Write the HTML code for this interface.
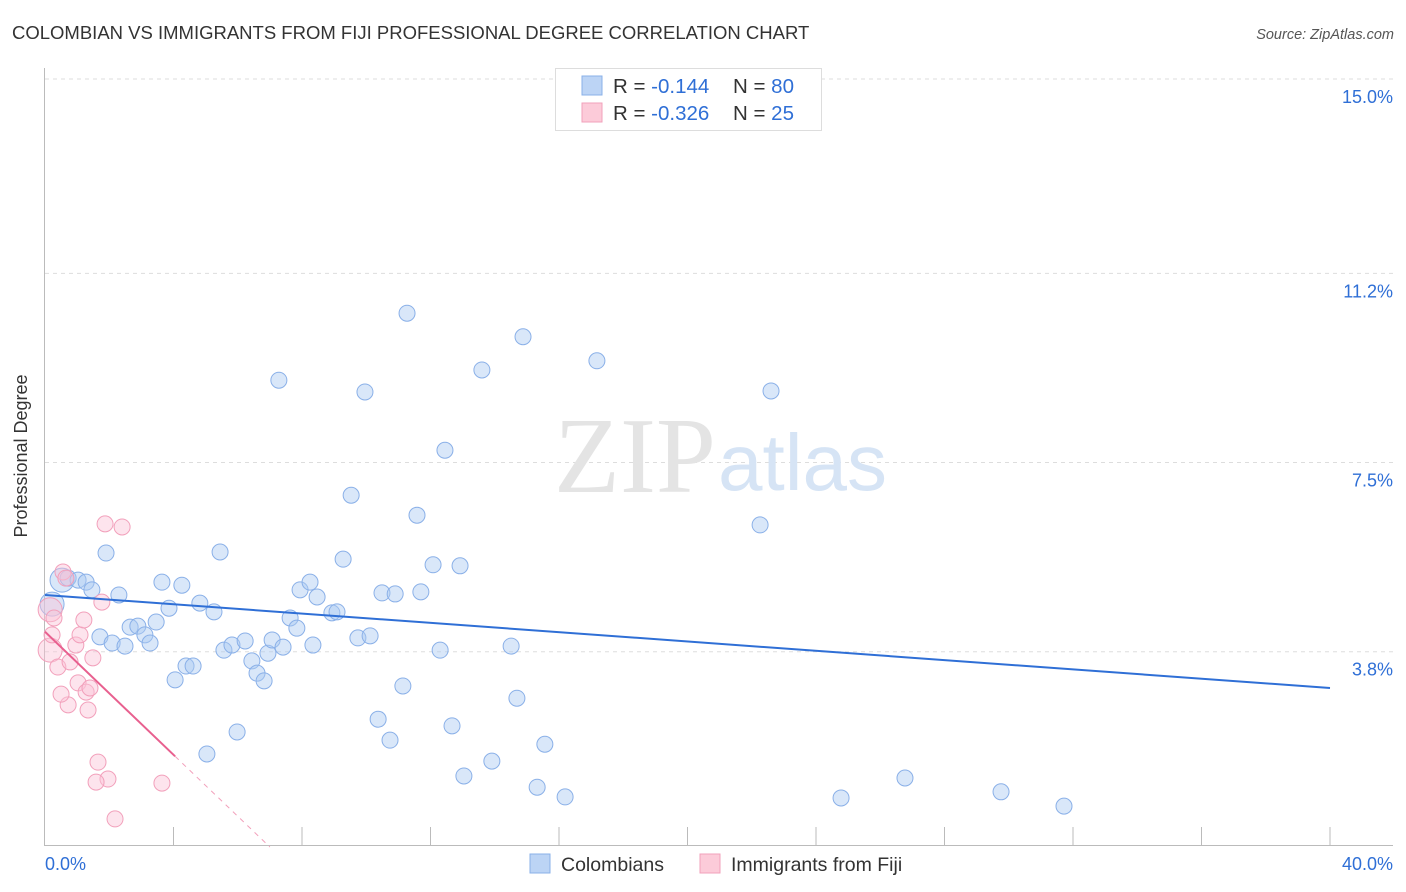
<!DOCTYPE html>
<html><head><meta charset="utf-8"><style>
body{margin:0;background:#fff;font-family:"Liberation Sans",sans-serif;}
svg{display:block}
</style></head><body>
<svg width="1406" height="892" viewBox="0 0 1406 892">
<text x="12" y="39" font-size="18.5" fill="#333">COLOMBIAN VS IMMIGRANTS FROM FIJI PROFESSIONAL DEGREE CORRELATION CHART</text>
<text x="1394" y="39" font-size="14.5" fill="#555" font-style="italic" text-anchor="end">Source: ZipAtlas.com</text>
<text x="27" y="456" font-size="18" fill="#333" text-anchor="middle" transform="rotate(-90 27 456)">Professional Degree</text>
<g id="grid"></g>
<g id="axes"></g>
<text x="716" y="492" font-size="108" fill="#e4e4e4" text-anchor="end" font-family="Liberation Serif,serif">ZIP</text>
<text x="718" y="490" font-size="80" fill="#d6e4f5">atlas</text>
<g id="pts"></g>
<g id="lines"></g>
<g>
<rect x="555.5" y="68.5" width="266" height="62" fill="#fff" stroke="#ddd"/>
<rect x="582" y="76" width="20" height="19" fill="#bcd4f5" stroke="#8ab0e8"/>
<rect x="582" y="103" width="20" height="19" fill="#fccbd9" stroke="#f2a0bb"/>
<text x="613" y="93" font-size="20.5" fill="#333">R = <tspan fill="#2f6fd6">-0.144</tspan><tspan x="733">N = </tspan><tspan fill="#2f6fd6">80</tspan></text>
<text x="613" y="120" font-size="20.5" fill="#333">R = <tspan fill="#2f6fd6">-0.326</tspan><tspan x="733">N = </tspan><tspan fill="#2f6fd6"> 25</tspan></text>
</g>
<g>
<rect x="530" y="854" width="20" height="19" fill="#bcd4f5" stroke="#8ab0e8"/>
<text x="561" y="871" font-size="19.5" fill="#333">Colombians</text>
<rect x="700" y="854" width="20" height="19" fill="#fccbd9" stroke="#f2a0bb"/>
<text x="731" y="871" font-size="19.5" fill="#333">Immigrants from Fiji</text>
</g>
</svg>
<script>
const blueX=[0.22,0.53,0.72,1.03,1.28,1.46,1.90,2.30,1.71,2.09,2.49,2.65,2.89,3.11,3.27,3.46,3.64,3.86,4.05,4.26,4.39,4.61,4.82,5.04,5.26,5.45,5.57,5.82,5.98,6.23,6.44,6.60,6.82,6.94,7.07,7.28,7.41,7.63,7.84,7.94,8.25,8.34,8.47,8.93,9.09,9.28,9.53,9.74,9.96,10.12,10.37,10.49,10.74,10.90,11.14,11.27,11.58,11.70,12.08,12.30,12.45,12.67,12.92,13.04,13.60,13.91,14.51,14.69,14.88,15.32,15.56,16.19,17.18,22.26,22.60,24.78,26.77,29.76,31.72];
const blueY=[4.73,5.20,5.24,5.20,5.16,5.01,5.73,4.91,4.09,3.97,3.91,4.28,4.30,4.13,3.97,4.38,5.16,4.65,3.25,5.10,3.52,3.52,4.75,1.80,4.58,5.75,3.83,3.93,2.23,4.01,3.62,3.38,3.23,3.77,4.03,9.11,3.89,4.46,4.26,5.01,5.16,3.93,4.87,4.56,4.58,5.61,6.86,4.07,8.88,4.11,2.48,4.95,2.07,4.93,3.13,10.42,6.47,4.97,5.50,3.83,7.74,2.35,5.48,1.37,9.31,1.66,3.91,2.89,9.96,1.15,1.99,0.96,9.49,6.28,8.90,0.94,1.33,1.06,0.78];
const pinkX=[0.16,0.16,0.28,0.22,0.40,0.56,0.65,0.78,0.96,1.03,1.09,1.21,1.28,1.34,1.40,1.49,0.72,0.50,1.65,1.77,1.87,1.96,1.59,2.18,2.40,3.64];
const pinkY=[4.62,3.83,4.46,4.13,3.50,5.36,5.24,3.60,3.93,3.19,4.13,4.42,3.01,2.66,3.09,3.68,2.76,2.97,1.64,4.77,6.30,1.31,1.25,0.53,6.24,1.23];
const yTicks=[3.8,7.5,11.2,15.0];
const xTickLabels=["0.0%","40.0%"];
const blueTrend=[4.91,3.09];
const pinkTrend=[4.19,-0.02];
const xs=v=>45+v*32.125, ys=v=>846-v*51.13;
const NS="http://www.w3.org/2000/svg";
function mk(tag,parent,attrs){const e=document.createElementNS(NS,tag);for(const k in attrs)e.setAttribute(k,attrs[k]);parent.appendChild(e);return e;}
const grid=document.getElementById('grid'),axes=document.getElementById('axes'),pts=document.getElementById('pts'),lines=document.getElementById('lines');
yTicks.forEach(t=>{const y=ys(t);
 const l=mk('line',grid,{x1:45,x2:1393,y1:y,y2:y,stroke:'#ddd','stroke-dasharray':'4,4'});
 
 
 const tx=mk('text',axes,{x:1393,y:y+24,'font-size':18,fill:'#2f6fd6','text-anchor':'end'});tx.textContent=t.toFixed(1)+'%';
 
 
});
mk('line',axes,{x1:44.5,x2:44.5,y1:68,y2:846,stroke:'#bbb'});
mk('line',axes,{x1:44,x2:1393,y1:845.5,y2:845.5,stroke:'#bbb'});
for(let i=1;i<=10;i++){const x=xs(i*4);const t=mk('line',axes,{x1:x,x2:x,y1:827,y2:846,stroke:'#bbb'});
 
 }
const xl0=mk('text',axes,{x:45,y:870,'font-size':18,fill:'#2f6fd6'});xl0.textContent=xTickLabels[0];


const xl1=mk('text',axes,{x:1393,y:870,'font-size':18,fill:'#2f6fd6','text-anchor':'end'});xl1.textContent=xTickLabels[1];


blueX.forEach((v,i)=>{const c=mk('circle',pts,{cx:xs(v),cy:ys(blueY[i]),r:i<2?12:8,fill:'rgba(170,202,242,0.45)',stroke:'#8ab0e8','stroke-width':1});
 
 });
pinkX.forEach((v,i)=>{const c=mk('circle',pts,{cx:xs(v),cy:ys(pinkY[i]),r:i<2?12:8,fill:'rgba(250,195,214,0.45)',stroke:'#f2a0bb','stroke-width':1});
 
 });
const bl=mk('line',lines,{x1:xs(0),y1:ys(blueTrend[0]),x2:xs(40),y2:ys(blueTrend[1]),stroke:'#2f6fd6','stroke-width':2});


const pf=v=>pinkTrend[0]+(pinkTrend[1]-pinkTrend[0])*v/7;
const pl=mk('line',lines,{x1:xs(0),y1:ys(pf(0)),x2:xs(4.05),y2:ys(pf(4.05)),stroke:'#e8608f','stroke-width':2});


const pd=mk('line',lines,{x1:xs(4.05),y1:ys(pf(4.05)),x2:xs(7),y2:ys(pf(7)),stroke:'#f2a0bb','stroke-width':1,'stroke-dasharray':'5,5'});


</script>
</body></html>
